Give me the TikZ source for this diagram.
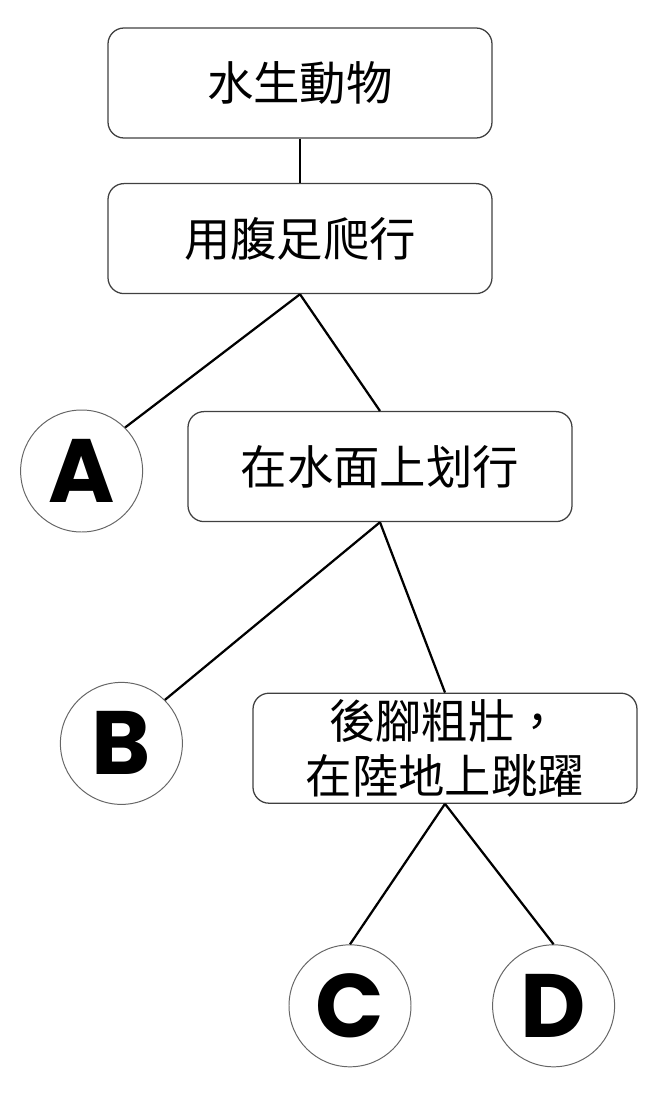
\documentclass[tikz,border=0pt]{standalone}
\usepackage{fontspec}
\usepackage{tikz}
\usetikzlibrary{shapes,calc}
\newfontfamily\cjk{Noto Sans CJK TC}
\newfontfamily\letterfont{Poppins}
\tikzstyle{line} = [draw, black, line width=1.6pt]
\tikzstyle{block} = [draw=black!75, line width=0.9pt, rectangle, rounded corners=0.4cm, text centered, align=center, minimum width=9.6cm, minimum height=2.75cm, inner sep=0pt, font=\cjk\fontsize{33}{39}\selectfont]
\tikzstyle{answer} = [draw=black!60, line width=0.7pt, circle, minimum size=3.05cm, inner sep=0pt, font=\letterfont\bfseries\fontsize{64}{64}\selectfont]

\begin{document}
\begin{tikzpicture}[node distance=1.5cm, auto]
        \useasboundingbox (-7.5,2.075) rectangle (8.825,-25.375);
        \node[block] (animal) {水生動物};
        \node[block, below of=animal, node distance=3.89cm] (crawl) {用腹足爬行};
        \node[block, below of=crawl, node distance=5.7cm, xshift=2cm] (row) {在水面上划行};
        \node[answer, left of=row, node distance=7.46cm, yshift=-0.11cm] (A) {A};
        \node[block, below of=row, node distance=7.04cm, xshift=1.625cm] (jump) {後腳粗壯，\\在陸地上跳躍};
        \node[answer, left of=jump, node distance=8.09cm, yshift=0.12cm] (B) {B};
        \node[answer, below of=jump, node distance=6.44cm, xshift=-2.375cm] (C) {C};
        \node[answer, right of=C, node distance=5.09cm] (D) {D};
        \path[line] (animal) -- (crawl);
        \path[line] (crawl.south) -- (A.north east);
        \path[line] (crawl.south) -- (row.north);
        \path[line] (row.south) -- (B.north east);
        \path[line] (row.south) -- (jump.north);
        \path[line] (jump.south) -- (C.north);
        \path[line] (jump.south) -- (D.north);
    \end{tikzpicture}
\end{document}
